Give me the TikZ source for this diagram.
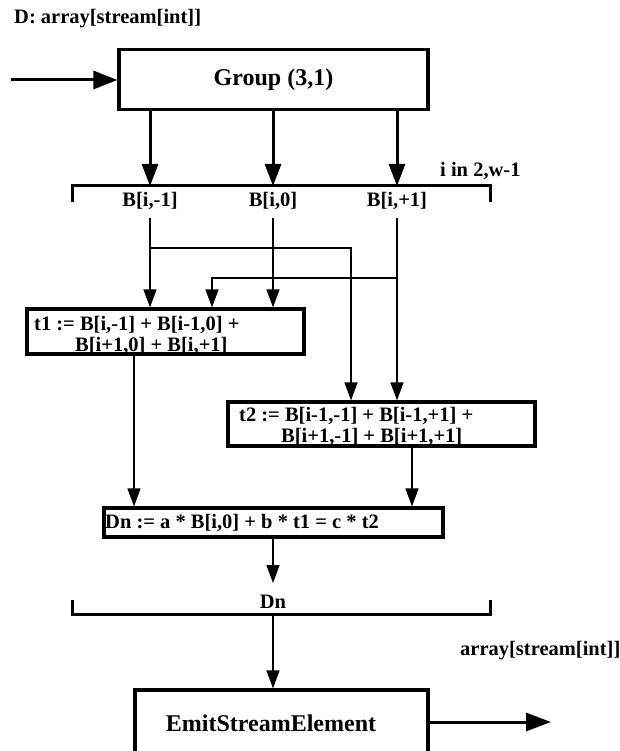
\documentclass[tikz,border=0pt]{standalone}
\usepackage{fontspec}
\setmainfont{Liberation Serif}
\usetikzlibrary{arrows.meta}
\begin{document}
\begin{tikzpicture}[x=1pt,y=-1pt,
  font=\bfseries\fontsize{20.5}{23}\selectfont,
  bigfont/.style={font=\bfseries\fontsize{24}{27}\selectfont},
  thickarrow/.style={line width=3pt, -{Triangle[length=22pt,width=16pt]}},
  thinarrow/.style={line width=1.4pt, -{Triangle[length=18pt,width=13pt]}},
  bracketline/.style={line width=3pt},
  box/.style={draw, line width=3.2pt, inner sep=0pt},
  txt/.style={inner sep=0pt, anchor=base west},
  ctxt/.style={inner sep=0pt, anchor=base}]
\useasboundingbox (0,0) rectangle (620,751);

% title
\node[txt] (title) at (14,24) {D: array[stream[int]]};

% boxes
\node[box, minimum width=309pt, minimum height=60pt] (group) at (273.5,79.5) {};
\node[bigfont, inner sep=0pt] (grouptxt) at (273.5,80) {Group (3,1)};
\node[box, minimum width=277pt, minimum height=45pt] (t1) at (165.5,331.5) {};
\node[box, minimum width=307pt, minimum height=44pt] (t2) at (381.5,424) {};
\node[box, minimum width=339pt, minimum height=29pt] (dn) at (273.5,522.5) {};
\node[box, minimum width=293pt, minimum height=100pt] (emit) at (281.5,740) {};

% texts in boxes
\node[txt] (t1a) at (34,330.5) {t1 := B[i,-1] + B[i-1,0] +};
\node[txt] (t1b) at (75,351) {B[i+1,0] + B[i,+1]};
\node[txt] (t2a) at (239,421) {t2 := B[i-1,-1] + B[i-1,+1] +};
\node[txt] (t2b) at (281,442) {B[i+1,-1] + B[i+1,+1]};
\node[txt] (dntxt) at (105,528) {Dn := a * B[i,0] + b * t1 = c * t2};
\node[bigfont, ctxt] (emittxt) at (271,731) {EmitStreamElement};

% input / output arrows
\coordinate (in) at (11,80);
\draw[line width=3pt, -{Triangle[length=24pt,width=18pt]}] (in) -- (group.west |- in);
\coordinate (out) at (551,722);
\draw[line width=3pt, -{Triangle[length=25pt,width=18pt]}] (emit.east |- out) -- (out);
\node[txt] (outlabel) at (460,655) {array[stream[int]]};

% top bracket
\coordinate (brT) at (0,186);
\draw[bracketline] (72,202) -- (72,186) -- (490,186) -- (490,202);
\node[txt] (range) at (440,177) {i in 2,w-1};
\node[ctxt] (bm) at (150,207) {B[i,-1]};
\node[ctxt] (b0) at (273,207) {B[i,0]};
\node[ctxt] (bp) at (397,207) {B[i,+1]};

\draw[thickarrow] (group.south -| bm) -- (bm |- brT);
\draw[thickarrow] (group.south -| b0) -- (b0 |- brT);
\draw[thickarrow] (group.south -| bp) -- (bp |- brT);

% thin connectors
\coordinate (lt) at (0,218);
\draw[thinarrow] (bm |- lt) -- (bm |- t1.north);
\draw[thinarrow] (b0 |- lt) -- (b0 |- t1.north);
\draw[thinarrow] (bp |- lt) -- (bp |- t2.north);
\coordinate (j1) at (150,248);
\coordinate (c1) at (351,248);
\draw[thinarrow] (j1) -- (c1) -- (c1 |- t2.north);
\coordinate (j2) at (397,278);
\coordinate (c2) at (212,278);
\draw[thinarrow] (j2) -- (c2) -- (c2 |- t1.north);

\coordinate (o1) at (134,0);
\draw[thinarrow] (t1.south -| o1) -- (o1 |- dn.north);
\coordinate (o2) at (412,0);
\draw[thinarrow] (t2.south -| o2) -- (o2 |- dn.north);

% bottom bracket
\coordinate (dnT) at (0,583);
\draw[thinarrow] (dn.south -| b0) -- (b0 |- dnT);
\node[ctxt] (dnlabel) at (273,608) {Dn};
\draw[bracketline] (72,600) -- (72,614) -- (490,614) -- (490,600);
\coordinate (brB) at (273,614);
\draw[thinarrow] (brB) -- (brB |- emit.north);
\end{tikzpicture}
\end{document}
